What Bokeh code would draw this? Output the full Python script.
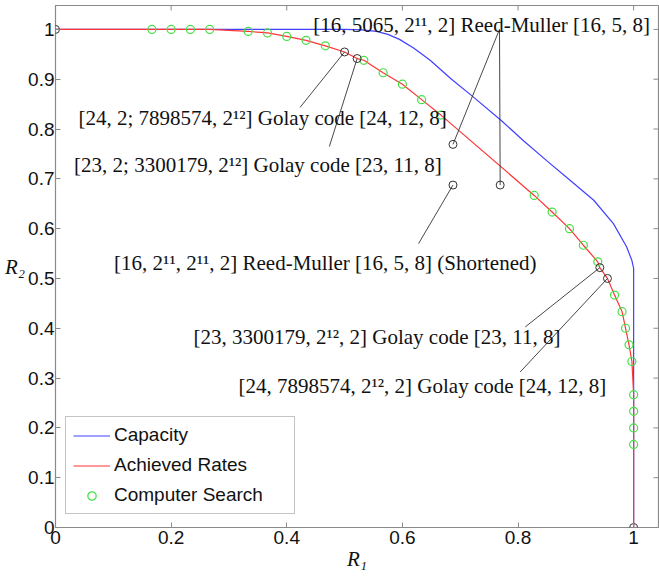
import math
from bokeh.plotting import figure
from bokeh.models import (Range1d, FixedTicker, Legend, LegendItem, ColumnDataSource)
from bokeh.embed import file_html
from bokeh.resources import INLINE
from bokeh.core.properties import value

# ---------------- data ----------------
x_ticks = [0, 0.2, 0.4, 0.6, 0.8, 1]
y_ticks = [0, 0.1, 0.2, 0.3, 0.4, 0.5, 0.6, 0.7, 0.8, 0.9, 1]

# capacity region boundary
capacity_r1 = [0.0, 0.5, 0.53, 0.555, 0.575, 0.595, 0.62, 0.648, 0.685, 0.723,
               0.772, 0.81, 0.85, 0.89, 0.931, 0.965, 0.988, 0.997, 1.0, 1.0]
capacity_r2 = [1.0, 1.0, 0.999, 0.996, 0.99, 0.98, 0.962, 0.938, 0.90, 0.864,
               0.816, 0.776, 0.736, 0.697, 0.657, 0.610, 0.563, 0.536, 0.52, 0.0]

# computer-search codes
search_r1 = [0.1667, 0.2, 0.2333, 0.2667, 0.3333, 0.3667, 0.4, 0.4333, 0.4667,
             0.5333, 0.5667, 0.6, 0.6333, 0.6667,
             0.828, 0.859, 0.889, 0.913, 0.938, 0.967, 0.980, 0.986, 0.992,
             0.997, 1.0, 1.0, 1.0, 1.0]
search_r2 = [1.0, 1.0, 1.0, 1.0, 0.996, 0.993, 0.986, 0.978, 0.967,
             0.938, 0.913, 0.890, 0.859, 0.828,
             0.6667, 0.6333, 0.6, 0.5667, 0.5333, 0.4667, 0.4333, 0.4, 0.3667,
             0.3333, 0.2667, 0.2333, 0.2, 0.1667]

# named codes: block length n and message-set sizes M1, M2
code_n = [1, 24, 23, 16, 16, 16, 23, 24, 1]
code_m1 = [1, 4096, 4096, 2048, 2048, 5065, 3300179, 7898574, 2]
code_m2 = [2, 7898574, 3300179, 5065, 2048, 2048, 4096, 4096, 1]
on_frontier = [True, True, True, False, False, False, True, True, True]

ann_text = [
    "[16, 5065, 2\u00b9\u00b9, 2] Reed-Muller [16, 5, 8]",
    "[24, 2; 7898574, 2\u00b9\u00b2] Golay code [24, 12, 8]",
    "[23, 2; 3300179, 2\u00b9\u00b2] Golay code [23, 11, 8]",
    "[16, 2\u00b9\u00b9, 2\u00b9\u00b9, 2] Reed-Muller [16, 5, 8] (Shortened)",
    "[23, 3300179, 2\u00b9\u00b2, 2] Golay code [23, 11, 8]",
    "[24, 7898574, 2\u00b9\u00b2, 2] Golay code [24, 12, 8]",
]
ann_targets = [[3, 5], [1], [2], [4], [6], [7]]

# label layout (data coordinates of text left-middle and leader start)
ann_x = [0.4457, 0.0396, 0.0322, 0.1014, 0.2386, 0.3165]
ann_y = [1.008, 0.8214, 0.727, 0.532, 0.3825, 0.2836]
lead_x = [0.768, 0.423, 0.4737, 0.628, 0.8125, 0.8038]
lead_y = [1.0, 0.8435, 0.765, 0.570, 0.4026, 0.3123]

# ---------------- derived ----------------
code_r1 = [math.log2(m) / n for m, n in zip(code_m1, code_n)]
code_r2 = [math.log2(m) / n for m, n in zip(code_m2, code_n)]

pts = [(a, b) for a, b in zip(search_r1, search_r2)]
pts += [(a, b) for a, b, f in zip(code_r1, code_r2, on_frontier) if f]
pts.sort(key=lambda t: (t[0], -t[1]))
ach_r1 = [t[0] for t in pts]
ach_r2 = [t[1] for t in pts]

seg_x0, seg_y0, seg_x1, seg_y1 = [], [], [], []
for i, tg in enumerate(ann_targets):
    for k in tg:
        seg_x0.append(lead_x[i]); seg_y0.append(lead_y[i])
        seg_x1.append(code_r1[k]); seg_y1.append(code_r2[k])

# ---------------- figure ----------------
W, H = 659, 576
X_END, Y_END = 1.043, 1.048
p = figure(width=W, height=H, x_range=Range1d(0, X_END), y_range=Range1d(0, Y_END),
           output_backend="svg", toolbar_location=None,
           min_border_left=55, min_border_right=1, min_border_top=5,
           min_border_bottom=49)
p.background_fill_color = "white"
p.border_fill_color = "white"
p.outline_line_color = "#8a8a8a"
p.outline_line_width = 1.2
p.xgrid.visible = False
p.ygrid.visible = False

GRAY = "#8a8a8a"
for ax, ticks in ((p.xaxis[0], x_ticks), (p.yaxis[0], y_ticks)):
    ax.ticker = FixedTicker(ticks=ticks)
    ax.major_label_overrides = {0: "0", 1: "1"}
    ax.axis_line_color = None
    ax.major_tick_line_color = GRAY
    ax.major_tick_in = 5
    ax.major_tick_out = 0
    ax.minor_tick_line_color = None
    ax.major_label_text_font = "Liberation Sans"
    ax.major_label_text_font_size = "19px"
    ax.major_label_text_color = "#111111"
    ax.axis_label_text_font = "Liberation Serif"
    ax.axis_label_text_font_style = "italic"
    ax.axis_label_text_font_size = "21px"
    ax.axis_label_text_color = "#111111"
    ax.axis_label_standoff = 0
p.xaxis.major_label_standoff = 3
p.yaxis.major_label_standoff = 1
p.xaxis.axis_label = "R\u2081"
p.yaxis.axis_label = "R\u2082"
p.yaxis.axis_label_orientation = "horizontal"

# inward ticks on the top and right edges of the box
p.scatter(x_ticks, [Y_END] * len(x_ticks), marker="dash", size=10, angle=math.pi / 2,
          line_color=GRAY, line_width=1)
p.scatter([X_END] * len(y_ticks), y_ticks, marker="dash", size=10,
          line_color=GRAY, line_width=1)

blue = p.line(capacity_r1, capacity_r2, line_color="#4040ff", line_width=1.2)
red = p.line(ach_r1, ach_r2, line_color="#ff3535", line_width=1.2)
green = p.scatter(search_r1, search_r2, marker="circle", size=8, fill_color=None,
                  line_color="#44e044", line_width=1.2)

p.segment(seg_x0, seg_y0, seg_x1, seg_y1, line_color="#333333", line_width=0.9)
p.scatter(code_r1, code_r2, marker="circle", size=8, fill_color=None,
          line_color="#333333", line_width=1.0)

src = ColumnDataSource(dict(x=ann_x, y=ann_y, t=ann_text))
p.text(x="x", y="y", text="t", source=src, text_font=value("Liberation Serif"),
       text_font_size="21px", text_baseline="middle", text_align="left",
       text_color="#111111")

legend = Legend(items=[LegendItem(label="Capacity", renderers=[blue]),
                       LegendItem(label="Achieved Rates", renderers=[red]),
                       LegendItem(label="Computer Search", renderers=[green])],
                location=(10, 13), label_text_font="Liberation Sans",
                label_text_font_size="19px", label_text_color="#111111",
                glyph_width=37, glyph_height=21, label_height=21, label_width=173,
                label_standoff=4, spacing=8, padding=7, margin=0,
                border_line_color=GRAY, border_line_width=1.2,
                background_fill_color="white", background_fill_alpha=1.0)
p.add_layout(legend, "center")

open("out.html", "w").write(file_html(p, INLINE))
